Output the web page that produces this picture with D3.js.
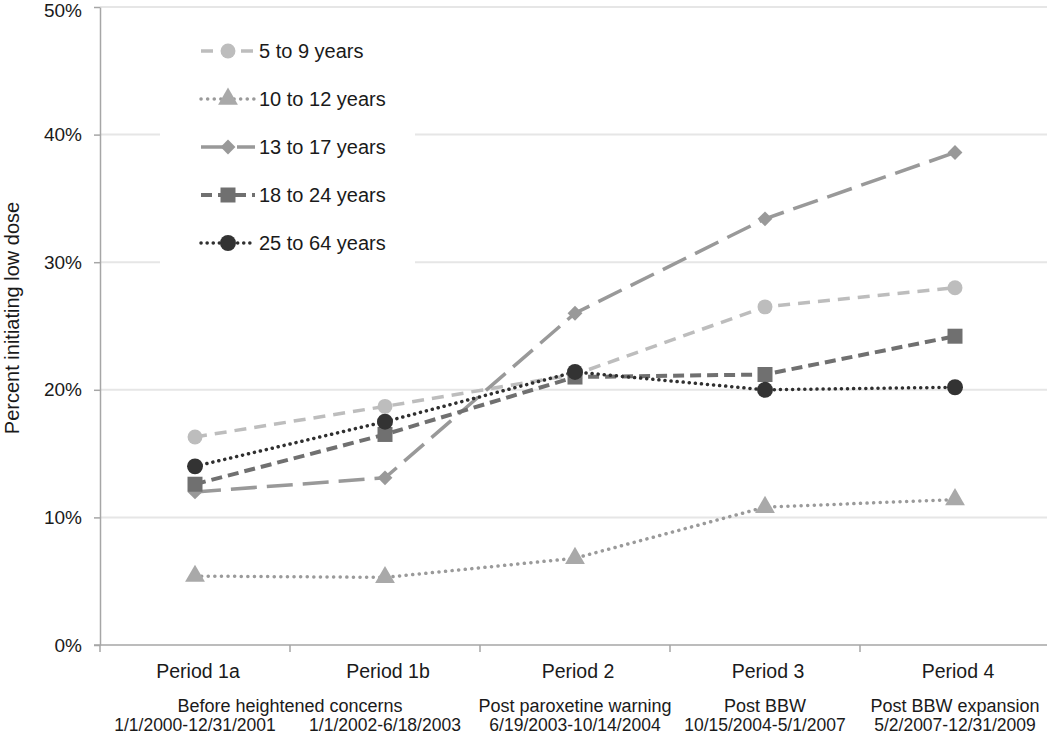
<!DOCTYPE html>
<html><head><meta charset="utf-8">
<script src="https://cdn.jsdelivr.net/npm/d3@7"></script>
<style>body{margin:0;background:#fff}svg{display:block;font-family:"Liberation Sans",Arial,sans-serif}</style>
</head><body>
<svg id="c" width="1050" height="734"></svg>
<script>
const categories = ["Period 1a","Period 1b","Period 2","Period 3","Period 4"];
const dateLabels = ["1/1/2000-12/31/2001","1/1/2002-6/18/2003","6/19/2003-10/14/2004","10/15/2004-5/1/2007","5/2/2007-12/31/2009"];
const phaseLabels = [
  {text:"Before heightened concerns", from:0, to:1},
  {text:"Post paroxetine warning", from:2, to:2},
  {text:"Post BBW", from:3, to:3},
  {text:"Post BBW expansion", from:4, to:4}
];
const seriesNames = ["5 to 9 years","10 to 12 years","13 to 17 years","18 to 24 years","25 to 64 years"];
const age5to9   = [16.3, 18.7, 21.2, 26.5, 28.0];
const age10to12 = [5.4, 5.3, 6.8, 10.8, 11.4];
const age13to17 = [12.0, 13.1, 26.0, 33.4, 38.6];
const age18to24 = [12.6, 16.5, 21.0, 21.2, 24.2];
const age25to64 = [14.0, 17.5, 21.4, 20.0, 20.2];
const yTicks = [0, 10, 20, 30, 40, 50];

const rotSquare = {draw(ctx, size){ const r = Math.sqrt(size/2); ctx.moveTo(0,-r); ctx.lineTo(r,0); ctx.lineTo(0,r); ctx.lineTo(-r,0); ctx.closePath(); }};
const styles = [
  {color:"#bdbdbd", fill:"#bdbdbd", dash:"12,8", cap:"butt", sym:d3.symbolCircle, size:175, w:3.5},
  {color:"#9a9a9a", fill:"#a9a9a9", dash:"0.1,6.5", cap:"round", sym:d3.symbolTriangle, size:170, w:3.5},
  {color:"#999999", fill:"#999999", dash:"26,10", cap:"butt", sym:rotSquare, size:110, w:3.5},
  {color:"#707070", fill:"#707070", dash:"11,6", cap:"butt", sym:d3.symbolSquare, size:225, w:4},
  {color:"#2f2f2f", fill:"#333333", dash:"0.1,6", cap:"round", sym:d3.symbolCircle, size:200, w:3.5}
];
const seriesData = [age5to9, age10to12, age13to17, age18to24, age25to64];

const svg = d3.select("#c");
const mLeft = 100, mRight = 1047, mTop = 7, mBottom = 645;
const x = d3.scaleBand().domain(categories).range([mLeft, mRight + 3]);
const y = d3.scaleLinear().domain([0, 50]).range([mBottom, mTop]);
const txt = "#1a1a1a";

// gridlines
svg.append("g").selectAll("line").data(yTicks.filter(t => t > 0)).join("line")
  .attr("x1", mLeft).attr("x2", mRight).attr("y1", d => y(d)).attr("y2", d => y(d))
  .attr("stroke", "#e6e6e6").attr("stroke-width", 2);

// y axis
const yAxis = svg.append("g").attr("transform", `translate(${mLeft},0)`)
  .call(d3.axisLeft(y).tickValues(yTicks).tickFormat(d => d + "%").tickSize(6).tickSizeOuter(0));
yAxis.select(".domain").attr("stroke", "#a6a6a6").attr("stroke-width", 1.5);
yAxis.selectAll(".tick line").attr("stroke", "#a6a6a6").attr("stroke-width", 1.5);
yAxis.selectAll(".tick text").attr("font-size", 19).attr("fill", txt).attr("x", -18)
  .attr("y", d => d === 50 ? 3 : 0)
  .attr("font-family", "Liberation Sans, Arial, sans-serif");

// x axis
const xAxisG = svg.append("g").attr("transform", `translate(0,${mBottom})`);
xAxisG.append("line").attr("x1", mLeft - 6).attr("x2", mRight).attr("y1", 0).attr("y2", 0)
  .attr("stroke", "#a6a6a6").attr("stroke-width", 1.5);
const boundaries = categories.map(c => x(c));
xAxisG.selectAll("line.tk").data(boundaries).join("line").attr("class", "tk")
  .attr("x1", d => d).attr("x2", d => d).attr("y1", 0).attr("y2", 7)
  .attr("stroke", "#a6a6a6").attr("stroke-width", 1.5);

const cx = c => x(c) + x.bandwidth() / 2;
svg.append("g").selectAll("text").data(categories).join("text")
  .attr("x", d => cx(d) + 3).attr("y", 678).attr("text-anchor", "middle")
  .attr("font-size", 19.5).attr("fill", txt).text(d => d);
svg.append("g").selectAll("text").data(phaseLabels).join("text")
  .attr("x", d => (cx(categories[d.from]) + cx(categories[d.to])) / 2).attr("y", 712)
  .attr("text-anchor", "middle").attr("font-size", 18).attr("fill", txt).text(d => d.text);
svg.append("g").selectAll("text").data(dateLabels).join("text")
  .attr("x", (d, i) => cx(categories[i])).attr("y", 731)
  .attr("text-anchor", "middle").attr("font-size", 17.5).attr("fill", txt).text(d => d);

// y title
svg.append("text").attr("transform", `translate(19,318) rotate(-90)`)
  .attr("text-anchor", "middle").attr("font-size", 20).attr("fill", txt)
  .text("Percent initiating low dose");

// lines
const line = d3.line().x((d, i) => cx(categories[i])).y(d => y(d));
seriesData.forEach((vals, s) => {
  const st = styles[s];
  svg.append("path").datum(vals).attr("d", line).attr("fill", "none")
    .attr("stroke", st.color).attr("stroke-width", st.w)
    .attr("stroke-dasharray", st.dash).attr("stroke-linecap", st.cap);
});
seriesData.forEach((vals, s) => {
  const st = styles[s];
  svg.append("g").selectAll("path").data(vals).join("path")
    .attr("transform", (d, i) => `translate(${cx(categories[i])},${y(d)})`)
    .attr("d", d3.symbol().type(st.sym).size(st.size)).attr("fill", st.fill);
});

// legend
const lg = svg.append("g");
lg.append("rect").attr("x", 160).attr("y", 22).attr("width", 255).attr("height", 245).attr("fill", "#fff");
seriesNames.forEach((name, s) => {
  const st = styles[s];
  const ly = 51 + s * 48;
  lg.append("line").attr("x1", 201).attr("x2", 255).attr("y1", ly).attr("y2", ly)
    .attr("stroke", st.color).attr("stroke-width", st.w)
    .attr("stroke-dasharray", st.dash).attr("stroke-linecap", st.cap);
  lg.append("path").attr("transform", `translate(228,${ly})`)
    .attr("d", d3.symbol().type(st.sym).size(st.size)).attr("fill", st.fill);
  lg.append("text").attr("x", 259).attr("y", ly + 7).attr("font-size", 20)
    .attr("fill", txt).text(name);
});
</script>
</body></html>
